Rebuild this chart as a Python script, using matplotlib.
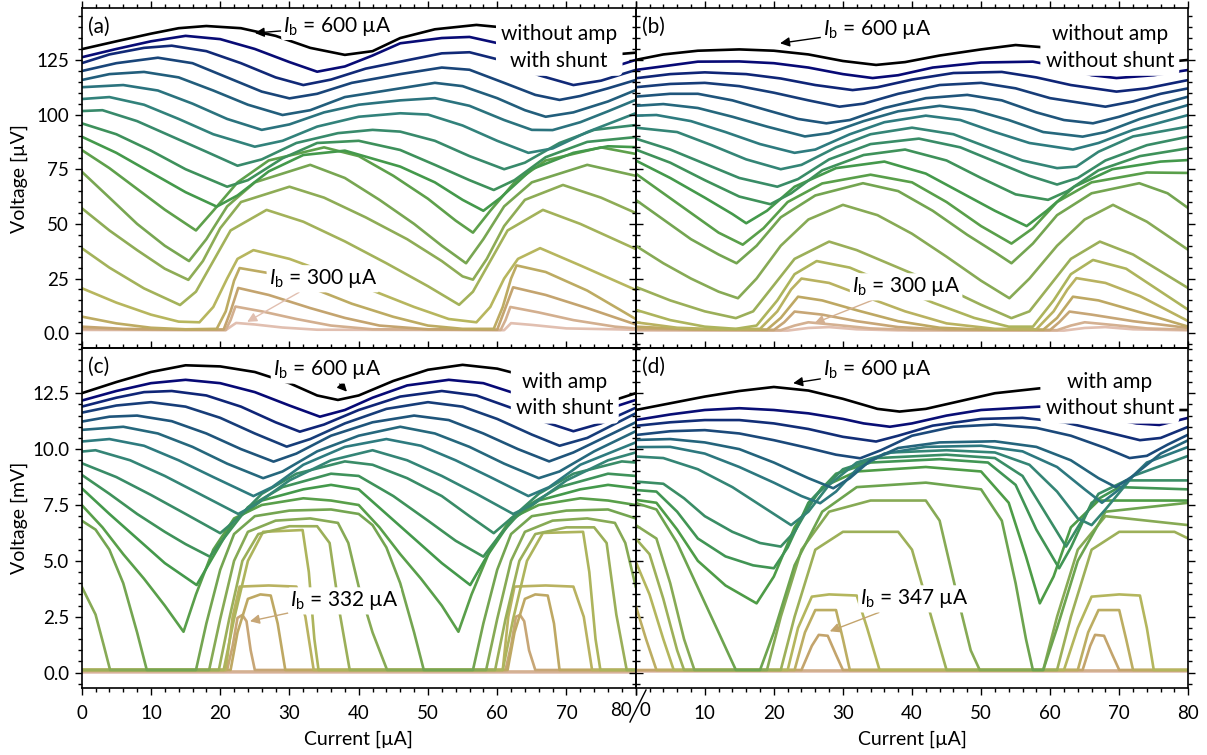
import matplotlib
matplotlib.use("Agg")
import matplotlib.pyplot as plt
from matplotlib.lines import Line2D
from matplotlib.ticker import MultipleLocator, FuncFormatter
import numpy as np

plt.rcParams.update({
    "font.family": ["Lato", "DejaVu Sans"],
    "mathtext.fontset": "custom",
    "mathtext.rm": "Lato",
    "mathtext.it": "Lato:italic",
    "mathtext.bf": "Lato:bold",
    "axes.linewidth": 1.2,
    "xtick.labelsize": 13.5,
    "ytick.labelsize": 13.5,
    "axes.labelsize": 14,
})

# ---- panel (a): without amp, with shunt  [uV] (top curve = 600 uA) ----
A_CURVES = [
    [(0,129.9),(5,133.5),(10,137),(14,139.5),(18,140.5),(23,139.5),(28,136),(33,130.5),(38,127.3),(42,129),(46,135),(51,139),(57,141),(62,139.5),(67,136),(72,131),(77,127.5),(80,128.3)],
    [(0,126.2),(5,130),(10,133.5),(15,136),(20,134.5),(25,130),(30,124),(34,119.6),(38,122),(42,127),(46,132.6),(52,135),(56,135.5),(61,132),(66,126),(70,121.5),(74,120),(77,122),(80,125)],
    [(0,123.5),(4,127.5),(9,130.5),(13,131.5),(18,129),(23,123.5),(28,117),(32,113.5),(36,116),(41,121),(46,124.2),(52,128),(56,128.5),(61,124.5),(66,118),(71,113.5),(75,115.5),(80,120.4)],
    [(0,119.9),(5,123.5),(11,126),(16,123.5),(21,117),(26,110.5),(30,107.4),(34,109.5),(39,114.5),(46,118.5),(52,121.5),(56,120.5),(61,114.5),(65.5,109),(69,106.7),(72,108.5),(76,112),(80,115.8)],
    [(0,115.8),(4,118.5),(9,119.5),(14,117),(19,111),(24,104.5),(29,99.8),(33,102),(38,108),(46,112),(51,114.5),(55,113),(60,107.5),(64,102),(67,99),(71,101),(76,106),(80,111.2)],
    [(0,112.5),(6,113.5),(11,111),(16,105),(21,98),(26,93),(30,95.5),(35,101),(40,104.5),(46,106.5),(51,107.5),(56,104),(61,97.5),(65,93),(68,92.9),(72,96.5),(76,101.5),(80,106.7)],
    [(0,107.1),(4,108),(9,104.5),(14,98),(19,91),(25,85.3),(29,88),(34,94.5),(40,99),(46,100.6),(50,100),(55,95),(60,88),(64.5,82.5),(68,84.5),(73,92),(80,100.6)],
    [(0,101.6),(3,102),(8,97),(13,90),(18,83),(22.5,76.6),(26,79.5),(31,87),(37,91.5),(42,93),(46,92.2),(51,88),(56,81),(61,75),(64,78),(69,87),(74,93),(80,95.2)],
    [(0,96),(5,91),(10,83.5),(15,75),(21,67),(24,70),(29,80),(34,87),(40,88),(46,83.8),(51,77),(56,70),(59.5,65.5),(62.5,70),(67,80.5),(73,87.5),(80,89.7)],
    [(0,89.9),(5,82.5),(10,73.5),(15,64.5),(19.5,57.9),(22.5,63),(27,74),(32,81.5),(38,83.5),(46,76.2),(51,69),(55,61),(58,56),(60.5,62),(65,75),(71,82.5),(76,85.5),(80,85.1)],
    [(0,83.8),(4,75.5),(8,66),(12,56.5),(16.5,47),(19,56),(22.5,69),(27,79),(35,85),(40,81),(45,72),(50,61.5),(54,51.5),(56.5,46),(59,56),(62.5,69),(67,79),(75,85),(80,82)],
    [(0,73.9),(4,62),(8,50),(12,40),(15.5,33),(18,43),(21,58),(25,69),(33,77),(38,71),(43,61),(48,50),(52,40),(55.5,32),(58,43),(61,58),(65,69),(73,77),(80,72)],
    [(0,57.2),(4,47),(8,38),(12,29.5),(15.4,24.4),(17.5,33),(20,48),(23,60),(30,67),(35,62),(41,53),(47,43),(52,33),(55,26),(56.5,24.5),(58.5,34),(61,49),(64,61),(69.5,67.8),(75,62),(80,55)],
    [(0,38.9),(4,30),(9,20.5),(14.2,12.9),(16.5,19),(19,33),(21.5,47),(26.7,56.4),(32,51),(38,42),(44,32),(50,21.5),(54.5,13),(56.5,19),(59,33),(61.5,47),(66.6,56.4),(72,50),(80,38.5)],
    [(0,20.6),(5,14),(10,8.5),(14,5.3),(17,5),(19,12),(21,25),(22.5,34),(24.8,38),(30,34),(36,27),(42,19.5),(48,12),(53,6.5),(57,5),(59,12),(61,25),(63,34),(66.2,38.9),(72,31),(80,19.8)],
    [(0,7.6),(5,4.5),(10,2.5),(15,1.8),(19.5,2),(20.8,10),(22,24),(22.8,29.8),(27,27.5),(33,21),(39,13.5),(45,7.5),(50,3.5),(55,2),(59.5,2),(60.8,12),(62,25),(62.8,31),(67,28),(73,19.5),(80,6.5)],
    [(0,3),(6,2),(15,1.6),(20.5,1.7),(21.5,10),(22.6,20.7),(27,17.5),(33,11.5),(38,7),(43,3.5),(50,1.8),(60,1.6),(61,10),(62.3,21),(67,17.5),(73,11.5),(80,4)],
    [(0,2),(10,1.6),(20.8,1.5),(21.5,6),(22.2,12.2),(26,10),(31,6.5),(36,3.5),(42,1.8),(60.5,1.5),(61.2,6),(61.9,12),(66,9.5),(71,6),(77,3),(80,2.2)],
    [(0,1.5),(20.8,1.4),(21.6,3.2),(22.3,4.7),(25,4),(29,2.6),(34,1.6),(61,1.4),(61.5,3),(62,4.6),(65,3.8),(70,2.2),(80,1.6)],
]

# ---- panel (b): without amp, without shunt  [uV] ----
B_CURVES = [
    [(0,125),(4,127.5),(9,129.2),(15,129.8),(20,129.2),(25,127.5),(30,124.5),(34.8,122.7),(39,124),(44,127),(50,129.8),(55,131.8),(60,130.5),(65,128),(70,125),(75,123.5),(80,125)],
    [(0,120.4),(5,122.5),(9,124.2),(15,124.3),(20,123.5),(25,121.5),(30,118.5),(34.3,116.7),(38,118),(43,121.5),(50,123.8),(57.5,124.2),(62,121.5),(66,118),(69.6,116.7),(75,118),(80,120.4)],
    [(0,116.6),(5,118.5),(10,119.3),(16,118.5),(21,116.5),(26,113.5),(31.4,111.2),(35,112.5),(40,116),(46,119),(53,119.5),(58,117),(63,113.5),(69.6,110.5),(74,112),(80,115.8)],
    [(0,112.5),(5,114),(10,114.5),(15,113),(20,110),(25,106.5),(29.5,103.6),(33,105),(38,109.5),(44,113.5),(50,114.5),(55,112),(60,107.5),(68,103.6),(72,106),(76,109.5),(80,112)],
    [(0,108.2),(5,109.5),(9,109.5),(14,106.5),(19,102),(23.5,98),(27.6,96),(31,97.5),(36,103),(42,107.5),(48,109),(53,106.5),(58,101),(62,97.5),(66.2,96),(70,99),(75,104),(80,108.2)],
    [(0,104),(4,104.8),(9,103),(14,99),(19,94.5),(24.5,90),(28,91.5),(33,97),(38,101.5),(44,104),(49,102),(54,97.5),(59,92),(64.7,89.9),(68,92),(73,98),(80,104.4)],
    [(0,99.5),(3,99.8),(8,97),(13,92),(18,86.5),(23,82.5),(26,84),(31,91),(36,96.5),(42,99.5),(47,97.5),(52,92),(57,87),(63.3,84),(67,87),(72,93),(80,99.8)],
    [(0,94),(6,92),(11,86),(16,79.5),(21,75),(24,77),(29,85),(34,91),(40,94),(46,91),(51,85),(56,79),(61,75.5),(63.8,76.2),(67,83),(72,90),(80,94.5)],
    [(0,89),(5,84),(10,77.5),(15,71),(20.5,67),(23.5,70.5),(28,79.5),(34,86.5),(41,89),(47,85),(52,78.5),(57,72),(61,68),(64,71),(68,79),(74,86),(80,89.9)],
    [(0,84),(5,78),(10,70),(15,62.5),(19.5,59),(22.5,64),(27,74.5),(33,81.5),(39,84),(45,79),(50,71),(55,63.5),(59.7,61),(62.5,65),(67,74.5),(73,81),(80,84.6)],
    [(0,79),(5,71),(10,62),(14,54.5),(16,50.3),(19,56),(23,67),(29,75.5),(36,78.5),(42,73),(47,64.5),(52,56),(56.6,49),(59.5,56),(63.5,67),(69,75),(76,78.5),(80,79.2)],
    [(0,73),(4,64),(8,55),(12,46),(15.5,40.5),(18.5,48),(22,60),(27,68.5),(34,72.5),(40,69),(45,60),(50,49),(54.4,41),(57.5,48),(61,60),(66,69),(74,73.5),(80,73.3)],
    [(0,61),(4,52),(8,43),(12,36),(14.6,32),(17.5,40),(21,53),(26,63),(32.9,68.6),(38,65),(43,56),(48,45),(52,37),(54.4,32),(57.5,41),(61,54),(66,64),(72.9,68.6),(77,64),(80,57.2)],
    [(0,40),(4,32),(8,25),(12,19),(14.8,16),(17.5,25),(21,40),(25,52),(30,58.7),(35,54),(40,45.5),(45,35),(50,24),(54.1,16),(57,25),(61,40),(65,52),(69.1,58.7),(74,51),(80,38.1)],
    [(0,21.2),(5,15),(10,10),(14.5,6.9),(17,10),(20,22),(23,34),(28,41.9),(32,38),(38,30),(44,22),(50,13),(54.4,6.9),(57,10),(60,22),(63,34),(67.2,41.9),(72,36),(80,20.6)],
    [(0,10.7),(5,6),(10,3),(14.5,2),(17.5,3.5),(20.5,15),(23,27),(26.2,33),(31,30),(37,22),(43,14),(49,7),(54,3),(57.5,3),(60.5,15),(63,27),(66.2,33.5),(71,29.5),(80,10.7)],
    [(0,5),(6,2.5),(12,1.8),(18,2),(20.5,10),(22.5,20),(24,25),(28,23),(33,17),(39,10),(45,4.5),(52,2),(58,1.8),(60.5,10),(62.5,20),(63.8,25.2),(68,23),(73,17),(80,5.5)],
    [(0,3),(8,1.8),(19,1.6),(21,7),(23.5,16.7),(27,15),(32,10.5),(38,5.5),(44,2.5),(50,1.7),(59,1.6),(61,7),(63.3,16.7),(67,15),(72,10.5),(80,3)],
    [(0,2.2),(10,1.6),(20,1.5),(21.5,5),(23,9.9),(27,8.5),(32,5.5),(38,2.8),(45,1.6),(60,1.5),(61.3,5),(62.8,9.9),(66,8.5),(72,5.5),(80,2.4)],
    [(0,1.6),(21,1.4),(23,3.5),(25,5),(29,3.8),(34,2.2),(40,1.5),(61,1.4),(63,3.5),(65,5),(69,3.8),(74,2.2),(80,1.6)],
    [(0,1.3),(22,1.2),(25,2.4),(28,2.8),(32,1.8),(38,1.3),(62,1.2),(65,2.4),(68,2.8),(72,1.8),(80,1.3)],
]

# ---- panel (c): with amp, with shunt  [mV] ----
C_CURVES = [
    [(0,12.5),(5,13.0),(10,13.45),(15,13.75),(20,13.7),(25,13.45),(30,12.95),(34,12.4),(37,12.2),(40,12.4),(45,13.05),(50,13.55),(55,13.77),(60,13.6),(65,13.2),(70,12.7),(74,12.3),(77,12.2),(80,12.5)],
    [(0,12.17),(5,12.6),(10,12.95),(15,13.1),(20,12.95),(25,12.55),(30,11.95),(34.4,11.45),(38,11.75),(42,12.3),(47,12.85),(53,13.1),(58,12.95),(63,12.45),(68,11.8),(72,11.45),(76,11.8),(80,12.2)],
    [(0,11.9),(5,12.3),(9,12.55),(13,12.6),(18,12.4),(23,11.9),(28,11.2),(31.5,10.78),(35,11.1),(40,11.75),(46,12.35),(52,12.6),(57,12.4),(62,11.85),(67,11.2),(71,10.8),(75,11.15),(80,11.85)],
    [(0,11.63),(5,11.95),(10,12.1),(15,11.9),(20,11.4),(25,10.7),(29.6,10.11),(33,10.45),(38,11.15),(44,11.8),(50,12.1),(55,11.9),(60,11.35),(65,10.65),(69,10.15),(73,10.5),(80,11.6)],
    [(0,11.23),(4,11.45),(8,11.5),(13,11.25),(18,10.7),(23,10.0),(27.7,9.44),(31,9.8),(36,10.6),(42,11.2),(48,11.5),(53,11.3),(58,10.7),(63,10.0),(67.5,9.45),(71,9.85),(76,10.6),(80,11.2)],
    [(0,10.86),(6,11.0),(11,10.7),(16,10.1),(21,9.35),(26.2,8.7),(29,9.0),(34,9.9),(40,10.6),(46,11.0),(51,10.7),(56,10.1),(61,9.35),(66,8.7),(69,9.0),(74,9.9),(80,10.8)],
    [(0,10.34),(4,10.45),(9,10.15),(14,9.5),(19,8.75),(24.8,7.9),(27.5,8.3),(32,9.3),(38,10.1),(44,10.45),(49,10.15),(54,9.5),(59,8.75),(64.5,7.9),(67.5,8.3),(72,9.3),(80,10.3)],
    [(0,9.89),(2,9.95),(7,9.5),(12,8.8),(17,8.0),(22.6,7.1),(25,7.5),(30,8.6),(36,9.5),(42,9.95),(47,9.5),(52,8.8),(57,8.0),(62.3,7.1),(65,7.5),(70,8.6),(76,9.5),(80,9.85)],
    [(0,9.37),(5,8.75),(10,7.95),(15,7.1),(20,6.24),(22.5,6.9),(26,8.0),(31,8.9),(38,9.45),(42,9.3),(47,8.7),(52,7.9),(56,7.0),(59.5,6.24),(62,6.9),(66,8.0),(71,8.9),(78,9.45),(80,9.4)],
    [(0,8.85),(4,8.0),(8,7.1),(12,6.3),(15,5.75),(18.5,5.19),(21,6.2),(24,7.4),(29,8.3),(36,8.9),(40,8.8),(45,7.9),(50,6.8),(54,5.9),(58,5.19),(60.5,6.2),(64,7.4),(69,8.3),(76,8.9),(80,8.8)],
    [(0,8.25),(4,7.1),(8,6.0),(12,4.9),(16.6,3.92),(19,5.2),(22,6.8),(26,7.7),(32,8.2),(36,8.4),(40,8.2),(44,7.1),(48,6.0),(52,4.9),(56.1,3.92),(58.5,5.2),(62,6.8),(66,7.7),(72,8.2),(76,8.4),(80,8.25)],
    [(0,7.5),(3,6.5),(6,5.3),(9,4.2),(12,3.0),(14.7,1.83),(16.5,3.5),(19,5.5),(22,6.9),(26,7.5),(32,7.8),(36,7.7),(40,7.5),(43,6.5),(46,5.3),(49,4.2),(52,3.0),(54.4,1.83),(56.3,3.5),(59,5.5),(62,6.9),(66,7.5),(72,7.8),(76,7.7),(80,7.5)],
    [(0,6.8),(2,6.4),(4,5.5),(6,4.0),(8,1.8),(9.4,0.12),(16.5,0.12),(18,2.2),(20,4.6),(22,6.2),(25,7.0),(30,7.25),(36,7.3),(40,7.1),(42,6.6),(44,5.6),(46,4.0),(48,1.8),(49.4,0.12),(56.5,0.12),(58,2.2),(60,4.6),(62,6.2),(65,7.0),(70,7.25),(76,7.3),(80,6.9)],
    [(0,3.85),(2,2.6),(3.2,1.2),(4.1,0.12),(18.4,0.12),(20,2.4),(22,5.0),(24,6.3),(28,6.8),(33,6.9),(37,6.7),(38.5,5.8),(40,3.85),(42,1.8),(44.1,0.12),(58.4,0.12),(60,2.4),(62,5.0),(64,6.3),(68,6.8),(73,6.9),(77,6.7),(78.5,5.8),(80,3.85)],
    [(0,0.12),(19.8,0.12),(21.3,2.4),(23.2,5.0),(25.5,6.2),(30,6.55),(34,6.55),(35.8,5.8),(37.3,2.6),(38.7,0.12),(59.7,0.12),(61.2,2.4),(63.2,5.0),(65.5,6.2),(70,6.5),(74,6.5),(75.8,5.8),(77.2,2.6),(78.7,0.12),(80,0.12)],
    [(0,0.12),(20.5,0.12),(22,2.4),(24,5.0),(26.2,6.3),(31.9,6.38),(32.8,4.5),(33.6,1.5),(34.2,0.12),(60.8,0.12),(62.3,2.4),(64.3,5.0),(66.6,6.25),(72.4,6.3),(73.3,4.5),(74.2,1.5),(74.9,0.12),(80,0.12)],
    [(0,0.12),(20.8,0.12),(21.8,2.5),(22.8,3.85),(27,3.9),(31,3.85),(32.3,2.5),(33.5,0.12),(60.8,0.12),(61.6,2.5),(62.5,3.85),(67,3.9),(71,3.85),(72.5,2.5),(73.7,0.12),(80,0.12)],
    [(0,0.12),(21.5,0.12),(22.5,1.8),(24,3.3),(25.8,3.5),(27.3,3.45),(28.3,2.2),(29.4,0.12),(61.5,0.12),(62.5,1.8),(64,3.3),(65.5,3.5),(67.3,3.45),(68.2,2.2),(69,0.12),(80,0.12)],
    [(0,0.12),(21,0.12),(21.8,1.2),(22.5,2.45),(23.2,2.58),(23.8,2.3),(24.4,1.0),(25,0.12),(61.2,0.12),(62,1.2),(62.7,2.5),(63.3,2.58),(63.9,2.3),(64.6,1.0),(65.5,0.12),(80,0.12)],
    [(0,0.08),(80,0.08)],
    [(0,0.05),(80,0.05)],
]

# ---- panel (d): with amp, without shunt  [mV] ----
D_CURVES = [
    [(0,11.75),(5,12.05),(10,12.35),(15,12.6),(20,12.78),(25,12.62),(30,12.25),(35,11.8),(38.2,11.68),(42,11.8),(47,12.15),(52,12.5),(58.5,12.72),(63,12.6),(68,12.3),(73,11.95),(77,11.75),(80,11.75)],
    [(0,11.3),(5,11.55),(10,11.75),(15,11.83),(20,11.75),(25,11.6),(30,11.35),(33,11.15),(36.8,11.0),(40,11.15),(45,11.5),(50,11.75),(58.5,11.9),(64,11.7),(69,11.35),(72.5,11.15),(75.8,11.08),(80,11.4)],
    [(0,11.04),(5,11.2),(10,11.3),(15,11.3),(20,11.15),(25,10.9),(30,10.55),(34.8,10.34),(38,10.6),(43,11.05),(50,11.35),(56,11.4),(62,11.2),(67,10.85),(73,10.4),(76,10.5),(80,11.0)],
    [(0,10.63),(5,10.8),(10,10.85),(15,10.7),(20,10.4),(25,10.05),(29,9.75),(32.5,9.59),(35.5,9.95),(40,10.6),(46,11.0),(52,11.1),(58,10.95),(63,10.6),(68,10.05),(71.5,9.6),(74,9.7),(77,10.2),(80,10.65)],
    [(0,10.41),(5,10.45),(10,10.3),(15,10.0),(20,9.4),(25,8.7),(28.6,8.25),(31,8.7),(34,9.5),(38,10.05),(44,10.3),(52,10.35),(58,10.1),(63,9.5),(67,8.7),(69.5,8.3),(72,8.8),(76,9.8),(80,10.4)],
    [(0,10.09),(5,10.1),(10,9.8),(15,9.2),(20,8.5),(24,7.9),(26.7,7.58),(29,8.1),(32,9.1),(36,9.8),(42,10.1),(50,10.15),(56,9.9),(61,9.2),(65,8.2),(67.5,7.6),(70,8.2),(74,9.4),(80,10.1)],
    [(0,9.67),(4,9.6),(9,9.1),(14,8.3),(19,7.3),(22.5,6.6),(25,7.2),(28,8.4),(32,9.4),(37,9.85),(45,9.95),(52,9.85),(57,9.3),(61,8.1),(64,6.9),(66,6.6),(68,7.3),(72,8.8),(80,9.7)],
    [(0,8.55),(4,8.45),(7,7.8),(10,7.0),(14,6.3),(18,5.8),(21,5.64),(23,6.3),(26,7.9),(30,9.1),(35,9.6),(45,9.75),(52,9.6),(56,8.8),(59,7.3),(62.3,5.64),(64,6.5),(67,8.0),(71,8.6),(80,8.6)],
    [(0,8.17),(3,8.1),(6,7.2),(9,6.0),(13,5.2),(17,4.8),(20,4.67),(22,5.6),(25,7.6),(29,8.9),(34,9.4),(44,9.55),(51,9.4),(55,8.4),(58,6.4),(61.3,4.67),(63,5.6),(66,7.6),(70,8.3),(80,8.2)],
    [(0,7.73),(3,7.6),(6,6.4),(9,5.0),(13,3.9),(17.5,3.1),(20,4.3),(23,6.5),(27,8.3),(32,9.0),(42,9.2),(50,9.0),(54,7.6),(56.5,5.2),(58.5,3.1),(60.5,4.3),(63,6.5),(67,7.7),(80,7.7)],
    [(0,7.59),(3,7.3),(6,5.8),(9,3.8),(12,1.8),(14.5,0.12),(18,0.12),(20,1.8),(23,4.8),(27,7.2),(32,8.3),(42,8.5),(50,8.2),(53,6.8),(55,4.0),(56.5,1.5),(57.5,0.12),(59,0.12),(61,2.0),(64,5.0),(68,7.2),(80,7.6)],
    [(0,6.6),(3,6.0),(5,4.0),(7,1.5),(8.5,0.12),(19,0.12),(21,2.5),(24,5.5),(28,7.2),(34,7.7),(42,7.7),(44,6.8),(46.5,3.5),(48.5,1.0),(49.8,0.12),(59,0.12),(61,2.5),(64,5.5),(68,7.0),(80,6.6)],
    [(0,6.0),(2,5.3),(4,3.3),(6,1.0),(7,0.12),(21,0.12),(23,2.5),(26,5.5),(30,6.3),(38,6.3),(40,5.5),(42.5,2.8),(45,0.12),(61,0.12),(63,2.5),(66,5.5),(70,6.3),(78,6.3),(80,6.0)],
    [(0,4.97),(2,3.5),(4,1.5),(5.5,0.12),(22,0.12),(23.5,2.0),(25.5,3.4),(28,3.5),(32,3.45),(33.5,2.0),(35.3,0.12),(62,0.12),(64,2.0),(66,3.4),(70,3.5),(73,3.45),(74,2.0),(75,0.12),(80,0.12)],
    [(0,3.0),(1.5,1.5),(3,0.12),(23,0.12),(24.5,1.8),(26,2.8),(29,2.8),(30,1.5),(31,0.12),(64,0.12),(65.5,1.8),(67,2.8),(70,2.8),(71,1.5),(72,0.12),(80,0.12)],
    [(0,0.12),(24,0.12),(25.5,1.2),(26.5,1.69),(27.8,1.65),(29,0.8),(30,0.12),(64.7,0.12),(65.8,1.2),(66.5,1.69),(67.8,1.65),(69,0.8),(70,0.12),(80,0.12)],
    [(0,0.1),(80,0.1)],
    [(0,0.08),(80,0.08)],
]

PANEL_LABELS = ["(a)", "(b)", "(c)", "(d)"]
CONDITIONS = ["without amp\nwith shunt", "without amp\nwithout shunt",
              "with amp\nwith shunt", "with amp\nwithout shunt"]
TOP_LABEL = r"$I_\mathrm{b}$ = 600 µA"
LOW_LABELS = [r"$I_\mathrm{b}$ = 300 µA", r"$I_\mathrm{b}$ = 300 µA",
              r"$I_\mathrm{b}$ = 332 µA", r"$I_\mathrm{b}$ = 347 µA"]
CMAP_TOP = 0.9

W, H = 1207, 755
fig = plt.figure(figsize=(W / 100, H / 100), dpi=100)
x_l, x_m, x_r = 81.7 / W, 635.7 / W, 1188.3 / W
y_t, y_m, y_b = 1 - 8.3 / H, 1 - 348.3 / H, 1 - 688.3 / H
ax_a = fig.add_axes([x_l, y_m, x_m - x_l, y_t - y_m])
ax_b = fig.add_axes([x_m, y_m, x_r - x_m, y_t - y_m])
ax_c = fig.add_axes([x_l, y_b, x_m - x_l, y_m - y_b])
ax_d = fig.add_axes([x_m, y_b, x_r - x_m, y_m - y_b])
axes = [ax_a, ax_b, ax_c, ax_d]
curve_sets = [A_CURVES, B_CURVES, C_CURVES, D_CURVES]
cmap = plt.get_cmap("gist_earth")

for ax, curves in zip(axes, curve_sets):
    ax.set_facecolor("none")
    cols = cmap(np.linspace(0.0, CMAP_TOP, len(curves)))
    for i in range(len(curves) - 1, -1, -1):
        xs, ys = zip(*curves[i])
        ax.plot(xs, ys, color=cols[i], lw=1.9, solid_joinstyle="round")
    ax.set_xlim(0, 80)
    ax.xaxis.set_major_locator(MultipleLocator(10))
    ax.xaxis.set_minor_locator(MultipleLocator(2))
    for s in ax.spines.values():
        s.set_linewidth(1.2)

for ax in (ax_a, ax_b):
    ax.set_ylim(-6.9, 148.6)
    ax.yaxis.set_major_locator(MultipleLocator(25))
    ax.yaxis.set_minor_locator(MultipleLocator(5))
    ax.yaxis.set_major_formatter(FuncFormatter(lambda v, p: "0.0" if abs(v) < 1e-9 else f"{v:.0f}"))
for ax in (ax_c, ax_d):
    ax.set_ylim(-0.70, 14.51)
    ax.yaxis.set_major_locator(MultipleLocator(2.5))
    ax.yaxis.set_minor_locator(MultipleLocator(0.5))
    ax.yaxis.set_major_formatter(FuncFormatter(lambda v, p: f"{v:.1f}"))

for ax in axes:
    top_row = ax in (ax_a, ax_b)
    ax.tick_params(which="both", direction="out", top=True, right=True, left=True,
                   bottom=not top_row, labelbottom=not top_row,
                   labelleft=ax in (ax_a, ax_c), width=1.0)
    ax.tick_params(which="major", length=5)
    ax.tick_params(which="minor", length=3)
    ax.tick_params(axis="x", pad=7)
    ax.tick_params(axis="y", pad=4)

ax_c.xaxis.set_major_formatter(FuncFormatter(lambda v, p: "" if v > 79 else f"{v:.0f}"))
ax_d.xaxis.set_major_formatter(FuncFormatter(lambda v, p: "" if v < 1 else f"{v:.0f}"))
fig.text(632 / W, 1 - 711 / H, "80", ha="right", va="center", fontsize=13.5)
fig.text(639 / W, 1 - 711 / H, "0", ha="left", va="center", fontsize=13.5)
fig.add_artist(Line2D([630 / W, 646 / W], [1 - 722 / H, 1 - 690 / H], color="black", lw=1.0))

ax_a.set_ylabel("Voltage [µV]")
ax_c.set_ylabel("Voltage [mV]")
ax_c.set_xlabel("Current [µA]", labelpad=6)
ax_d.set_xlabel("Current [µA]", labelpad=6)
ax_a.yaxis.set_label_coords(-0.097, 0.5)
ax_c.yaxis.set_label_coords(-0.097, 0.5)

halo = dict(boxstyle="round,pad=0.25", fc="white", ec="none")
cond_pos = [(0.862, 0.885), (0.858, 0.885), (0.872, 0.862), (0.858, 0.862)]
for ax, lab, cond, (cx, cy) in zip(axes, PANEL_LABELS, CONDITIONS, cond_pos):
    ax.text(0.012, 0.975, lab, transform=ax.transAxes, ha="left", va="top", fontsize=15)
    ax.text(cx, cy, cond, transform=ax.transAxes, ha="center", va="center",
            fontsize=15, linespacing=1.4, bbox=halo, zorder=10)

top_ann = [((25, 137.3), (29.1, 140.3)), ((20.9, 132.6), (27.1, 139.0)),
           ((38.3, 12.57), (27.6, 13.54)), ((22.8, 12.95), (27.1, 13.54))]
low_ann = [((23.9, 5.2), (27.0, 24.9)), ((25.9, 4.6), (31.3, 21.2)),
           ((24.3, 2.3), (30.1, 3.21)), ((28.1, 1.85), (32.5, 3.3))]
low_cols = [cmap(CMAP_TOP), cmap(CMAP_TOP * 19 / 20), cmap(CMAP_TOP * 18 / 20),
            cmap(CMAP_TOP * 15 / 17)]
for ax, (xy, xt), (lxy, lxt), lt, lc in zip(axes, top_ann, low_ann, LOW_LABELS, low_cols):
    ax.annotate(TOP_LABEL, xy=xy, xytext=xt, ha="left", va="center", fontsize=15,
                bbox=dict(boxstyle="round,pad=0.1", fc="white", ec="none"), zorder=11,
                arrowprops=dict(arrowstyle="-|>", color="black", lw=1.0,
                                mutation_scale=14, shrinkA=0, shrinkB=0))
    ax.annotate(lt, xy=lxy, xytext=lxt, ha="left", va="center", fontsize=15,
                bbox=dict(boxstyle="round,pad=0.1", fc="white", ec="none"), zorder=11,
                arrowprops=dict(arrowstyle="-|>", color=lc, lw=1.0,
                                mutation_scale=14, shrinkA=0, shrinkB=0))

fig.savefig("out.png", dpi=100)
